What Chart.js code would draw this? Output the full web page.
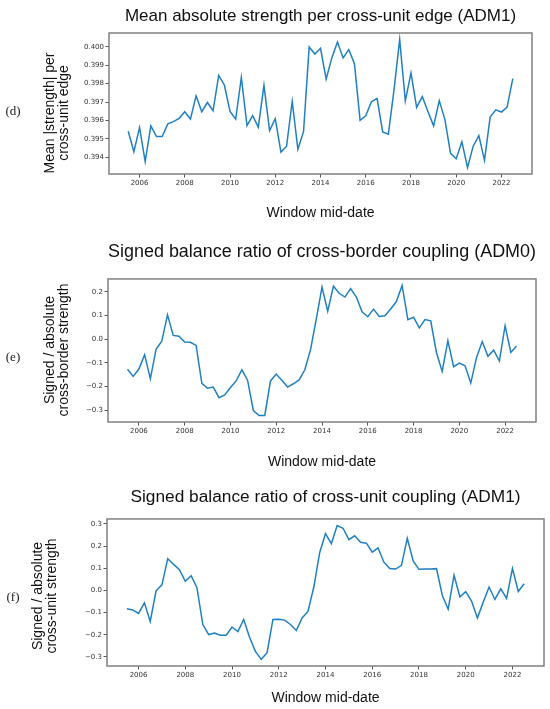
<!DOCTYPE html>
<html>
<head>
<meta charset="utf-8">
<script src="https://cdn.jsdelivr.net/npm/chart.js@4.4.0/dist/chart.umd.min.js"></script>
<style>
  body { margin: 0; background: #fff; }
  #page { position: relative; width: 550px; height: 709px; overflow: hidden; background: #fff; }
  canvas { position: absolute; left: 0; }
  .tag { position: absolute; font-family: "Liberation Serif", serif; font-size: 13px; color: #222; transform: translate(-50%, -50%); }
</style>
</head>
<body>
<div id="page">
  <canvas id="chartD" width="550" height="235" style="top:0px"></canvas>
  <canvas id="chartE" width="550" height="245" style="top:235px"></canvas>
  <canvas id="chartF" width="550" height="229" style="top:480px"></canvas>
  <div class="tag" style="left:13px;top:111px">(d)</div>
  <div class="tag" style="left:13px;top:357px">(e)</div>
  <div class="tag" style="left:13px;top:597px">(f)</div>
</div>
<script>
// window mid-dates (quarterly, decimal years)
const windowMid = [
  2005.5, 2005.75,
  2006, 2006.25, 2006.5, 2006.75,
  2007, 2007.25, 2007.5, 2007.75,
  2008, 2008.25, 2008.5, 2008.75,
  2009, 2009.25, 2009.5, 2009.75,
  2010, 2010.25, 2010.5, 2010.75,
  2011, 2011.25, 2011.5, 2011.75,
  2012, 2012.25, 2012.5, 2012.75,
  2013, 2013.25, 2013.5, 2013.75,
  2014, 2014.25, 2014.5, 2014.75,
  2015, 2015.25, 2015.5, 2015.75,
  2016, 2016.25, 2016.5, 2016.75,
  2017, 2017.25, 2017.5, 2017.75,
  2018, 2018.25, 2018.5, 2018.75,
  2019, 2019.25, 2019.5, 2019.75,
  2020, 2020.25, 2020.5, 2020.75,
  2021, 2021.25, 2021.5, 2021.75,
  2022, 2022.25, 2022.5
];

// (d) mean |strength| per cross-unit edge, ADM1
const meanAbsStrength = [
  0.39542, 0.39431,
  0.39562, 0.39377, 0.39571, 0.39513,
  0.39513, 0.39582, 0.39594, 0.39612,
  0.39648, 0.39608, 0.39734, 0.39648,
  0.39698, 0.39653, 0.39845, 0.39793,
  0.39650, 0.39608, 0.39834, 0.39573,
  0.39627, 0.39564, 0.39791, 0.39546,
  0.39610, 0.39429, 0.39461, 0.39704,
  0.39444, 0.39540, 0.39999, 0.39961,
  0.39992, 0.39825, 0.39940, 0.40026,
  0.39940, 0.39985, 0.39908, 0.39601,
  0.39626, 0.39702, 0.39720, 0.39538,
  0.39526, 0.39766, 0.40040, 0.39707,
  0.39859, 0.39671, 0.39730, 0.39649,
  0.39571, 0.39708, 0.39605, 0.39422,
  0.39393, 0.39485, 0.39345, 0.39461,
  0.39518, 0.39384, 0.39619, 0.39658,
  0.39646, 0.39673, 0.39827
];

// (e) signed / absolute cross-border strength, ADM0
const balanceAdm0 = [
  -0.127, -0.157,
  -0.126, -0.065, -0.167, -0.043,
  -0.008, 0.103, 0.016, 0.013,
  -0.012, -0.013, -0.026, -0.186,
  -0.207, -0.202, -0.247, -0.235,
  -0.204, -0.176, -0.129, -0.174,
  -0.301, -0.322, -0.322, -0.176,
  -0.147, -0.174, -0.202, -0.188,
  -0.172, -0.129, -0.044, 0.085,
  0.220, 0.118, 0.224, 0.194,
  0.178, 0.214, 0.178, 0.116,
  0.095, 0.127, 0.096, 0.099,
  0.128, 0.159, 0.227, 0.083,
  0.093, 0.048, 0.083, 0.078,
  -0.056, -0.136, -0.006, -0.116,
  -0.101, -0.112, -0.185, -0.078,
  -0.010, -0.072, -0.046, -0.092,
  0.057, -0.056, -0.029
];

// (f) signed / absolute cross-unit strength, ADM1
const balanceAdm1 = [
  -0.083, -0.088,
  -0.104, -0.056, -0.140, -0.002,
  0.025, 0.143, 0.117, 0.093,
  0.041, 0.066, 0.012, -0.154,
  -0.199, -0.192, -0.202, -0.202,
  -0.165, -0.186, -0.131, -0.211,
  -0.275, -0.311, -0.281, -0.131,
  -0.130, -0.134, -0.154, -0.181,
  -0.124, -0.095, 0.015, 0.170,
  0.256, 0.211, 0.292, 0.280,
  0.229, 0.246, 0.217, 0.213,
  0.172, 0.191, 0.127, 0.099,
  0.096, 0.113, 0.235, 0.133,
  0.095, 0.096, 0.096, 0.098,
  -0.023, -0.085, 0.068, -0.029,
  -0.006, -0.048, -0.125, -0.053,
  0.015, -0.041, 0.007, -0.036,
  0.099, -0.005, 0.030
];

const yearTicks = [2006, 2008, 2010, 2012, 2014, 2016, 2018, 2020, 2022];
const strengthTicks = [0.394, 0.395, 0.396, 0.397, 0.398, 0.399, 0.400];
const balanceTicksAdm0 = [-0.3, -0.2, -0.1, 0.0, 0.1, 0.2];
const balanceTicksAdm1 = [-0.3, -0.2, -0.1, 0.0, 0.1, 0.2, 0.3];

const tickFont = { family: 'DejaVu Sans', size: 7 };

// matplotlib style box round the axes
const framePlugin = {
  id: 'frame',
  afterDraw(chart) {
    const { ctx, chartArea: a } = chart;
    ctx.save();
    ctx.strokeStyle = '#808080';
    ctx.lineWidth = 1.5;
    ctx.strokeRect(a.left, a.top, a.right - a.left, a.bottom - a.top);
    ctx.restore();
  }
};

// two-line rotated y label (its centre sits a bit off the axes centre in the original)
const sideLabelPlugin = {
  id: 'sideLabel',
  afterDraw(chart, args, opts) {
    const ctx = chart.ctx;
    ctx.save();
    ctx.fillStyle = '#111';
    ctx.font = '14px "Liberation Sans"';
    ctx.textAlign = 'center';
    ctx.textBaseline = 'middle';
    opts.lines.forEach((line, i) => {
      ctx.save();
      ctx.translate(opts.x + i * 14.5, opts.y);
      ctx.rotate(-Math.PI / 2);
      ctx.fillText(line, 0, 0);
      ctx.restore();
    });
    ctx.restore();
  }
};

function fmt(v, digits) {
  return (v < 0 ? '\u2212' : '') + Math.abs(v).toFixed(digits);
}

function panel(id, series, yMin, yMax, yTicks, digits, titleText, yTitle, box) {
  return new Chart(document.getElementById(id), {
    type: 'line',
    data: {
      datasets: [{
        data: windowMid.map((x, i) => ({ x: x, y: series[i] })),
        borderColor: '#1f80c3',
        borderWidth: 1.5,
        pointRadius: 0,
        tension: 0,
        fill: false
      }]
    },
    options: {
      responsive: false,
      animation: false,
      devicePixelRatio: 1,
      layout: { padding: { left: 0, right: box.right, top: 0, bottom: 0 } },
      plugins: {
        legend: { display: false },
        tooltip: { enabled: false },
        title: {
          display: true,
          text: titleText,
          fullSize: false,
          color: '#111',
          font: { family: 'Liberation Sans', size: box.titleSize, weight: 'normal', lineHeight: 1.2 },
          padding: { top: box.titleTop, bottom: box.titleBottom }
        },
        sideLabel: { lines: yTitle, x: box.labelX, y: box.labelY }
      },
      scales: {
        x: {
          type: 'linear',
          min: 2004.65,
          max: 2023.35,
          afterBuildTicks: s => { s.ticks = yearTicks.map(v => ({ value: v })); },
          afterFit: s => { s.height = box.xHeight; },
          ticks: { font: tickFont, color: '#333', padding: 1.5, maxRotation: 0, autoSkip: false, callback: v => String(v) },
          grid: { drawOnChartArea: false, drawTicks: true, tickLength: 3.5, color: '#555' },
          border: { display: false },
          title: {
            display: true,
            text: 'Window mid-date',
            color: '#111',
            font: { family: 'Liberation Sans', size: 14, lineHeight: 1.15 },
            padding: { top: 0, bottom: box.xTitleBottom }
          }
        },
        y: {
          min: yMin,
          max: yMax,
          afterBuildTicks: s => { s.ticks = yTicks.map(v => ({ value: v })); },
          afterFit: s => { s.width = box.left; },
          ticks: { font: tickFont, color: '#333', padding: 1.5, autoSkip: false, callback: v => fmt(v, digits) },
          grid: { drawOnChartArea: false, drawTicks: true, tickLength: 3.5, color: '#555' },
          border: { display: false },
          title: { display: false }
        }
      }
    },
    plugins: [framePlugin, sideLabelPlugin]
  });
}

panel('chartD', meanAbsStrength, 0.3931, 0.40075, strengthTicks, 3,
  'Mean absolute strength per cross-unit edge (ADM1)',
  ['Mean |strength| per', 'cross-unit edge'],
  { left: 109, right: 18, titleSize: 17, titleTop: 5.8, titleBottom: 6.8, xHeight: 61, xTitleBottom: 14, labelX: 50, labelY: 113 });

panel('chartE', balanceAdm0, -0.3495, 0.2545, balanceTicksAdm0, 1,
  'Signed balance ratio of cross-border coupling (ADM0)',
  ['Signed / absolute', 'cross-border strength'],
  { left: 108, right: 14, titleSize: 18.3, titleTop: 5.8, titleBottom: 16.2, xHeight: 58, xTitleBottom: 10, labelX: 50, labelY: 115 });

panel('chartF', balanceAdm1, -0.341, 0.322, balanceTicksAdm1, 1,
  'Signed balance ratio of cross-unit coupling (ADM1)',
  ['Signed / absolute', 'cross-unit strength'],
  { left: 107, right: 6, titleSize: 17.3, titleTop: 6.7, titleBottom: 11.5, xHeight: 43, xTitleBottom: 3, labelX: 38, labelY: 116 });
</script>
</body>
</html>
